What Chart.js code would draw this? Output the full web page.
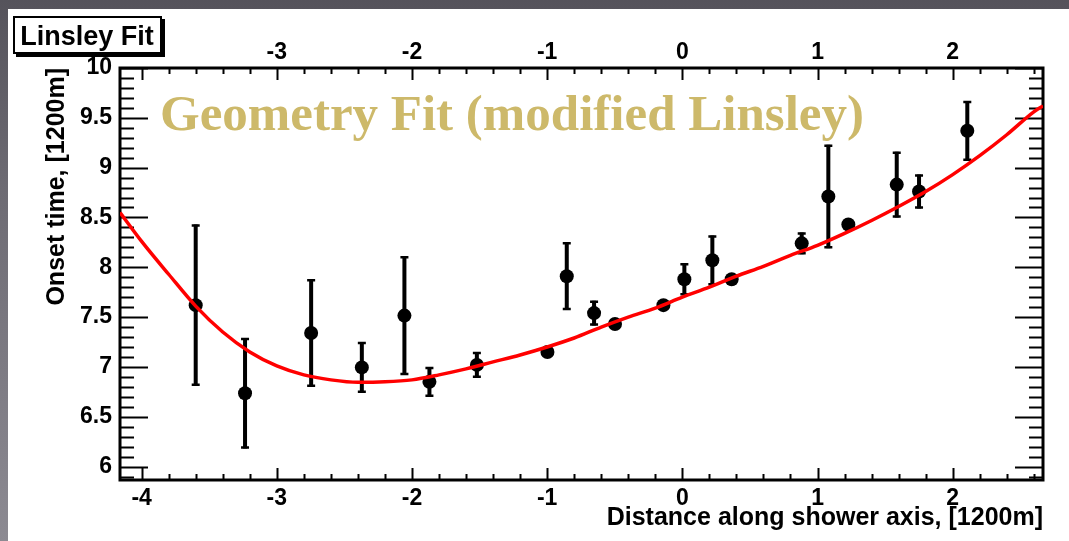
<!DOCTYPE html>
<html>
<head>
<meta charset="utf-8">
<script src="https://cdn.jsdelivr.net/npm/chart.js@4.4.1/dist/chart.umd.min.js"></script>
<style>
  html, body { margin: 0; padding: 0; width: 1069px; height: 541px; overflow: hidden; }
  body { background: linear-gradient(180deg, #55535b 0%, #6d6b73 35%, #8c8a92 100%); position: relative; }
  #panel { position: absolute; left: 8px; top: 9px; right: 0; bottom: 0; background: #fff; }
  #c { position: absolute; left: 0; top: 0; }
</style>
</head>
<body>
<div id="panel"></div>
<canvas id="c" width="1069" height="541"></canvas>
<script>
// Measured onset times along the shower axis (units of 1200 m)
const pointX   = [-3.60, -3.235, -2.746, -2.371, -2.056, -1.871, -1.52, -0.998, -0.855, -0.653, -0.498,
                  -0.14, 0.015, 0.222, 0.365, 0.883, 1.08, 1.228, 1.586, 1.751, 2.108];
const pointY   = [7.62, 6.735, 7.34, 6.995, 7.515, 6.85, 7.02, 7.15, 7.91, 7.54, 7.43,
                  7.62, 7.88, 8.07, 7.88, 8.24, 8.71, 8.43, 8.83, 8.76, 9.37];
const pointErr = [0.81, 0.555, 0.54, 0.255, 0.595, 0.15, 0.13, 0.03, 0.34, 0.125, 0.03,
                  0.03, 0.16, 0.25, 0.03, 0.11, 0.52, 0.03, 0.33, 0.17, 0.30];

// Fitted curve (modified Linsley shape), sampled along the axis
const fitX = [-4.16, -4.0, -3.8, -3.6, -3.4, -3.2, -3.0, -2.8, -2.6, -2.4, -2.2, -2.0, -1.8, -1.6, -1.4,
              -1.2, -1.0, -0.8, -0.6, -0.4, -0.2, 0.0, 0.2, 0.4, 0.6, 0.8, 1.0, 1.2, 1.4, 1.6, 1.8,
              2.0, 2.2, 2.4, 2.6, 2.668];
const fitY = [8.55, 8.26, 7.93, 7.61, 7.35, 7.15, 7.01, 6.92, 6.87, 6.845, 6.85, 6.87, 6.92, 6.98, 7.05,
              7.12, 7.20, 7.29, 7.40, 7.50, 7.59, 7.70, 7.80, 7.91, 8.01, 8.12, 8.22, 8.34, 8.47, 8.61, 8.76,
              8.93, 9.12, 9.33, 9.56, 9.62];

// Axis ranges and labelled ticks
const xRange = [-4.16, 2.668];
const yRange = [5.865, 10.0];
const xTickLabels    = [-4, -3, -2, -1, 0, 1, 2];
const xTopTickLabels = [-3, -2, -1, 0, 1, 2];
const yTickLabels    = [6, 6.5, 7, 7.5, 8, 8.5, 9, 9.5, 10];

const SANS = '"Liberation Sans", Arial, Helvetica, sans-serif';
const tickFont  = { family: SANS, size: 23, weight: 'bold' };
const titleFont = { family: SANS, size: 25, weight: 'bold' };

function fixedTicks(values) {
  return scale => { scale.ticks = values.map(v => ({ value: v })); };
}

// Frame with inward-pointing major/minor ticks on all four sides
const frameTicks = {
  id: 'frameTicks',
  beforeDatasetsDraw(chart) {
    const { ctx, chartArea: a, scales: { x, y } } = chart;
    ctx.save();
    ctx.strokeStyle = '#000';
    ctx.lineWidth = 2;
    ctx.beginPath();
    for (let k = Math.ceil(x.min * 5 - 1e-9); k <= Math.floor(x.max * 5 + 1e-9); k++) {
      const px = Math.round(x.getPixelForValue(k / 5)) + 0.5;
      const len = (k % 5 === 0) ? 12 : 6;
      ctx.moveTo(px, a.bottom); ctx.lineTo(px, a.bottom - len);
      ctx.moveTo(px, a.top);    ctx.lineTo(px, a.top + len);
    }
    for (let k = Math.ceil(y.min * 10 - 1e-9); k <= Math.floor(y.max * 10 + 1e-9); k++) {
      const py = Math.round(y.getPixelForValue(k / 10)) + 0.5;
      const len = (k % 5 === 0) ? 28 : 14;
      ctx.moveTo(a.left, py);  ctx.lineTo(a.left + len, py);
      ctx.moveTo(a.right, py); ctx.lineTo(a.right - len, py);
    }
    ctx.stroke();
    ctx.lineWidth = 3;
    ctx.strokeRect(a.left, a.top, a.right - a.left, a.bottom - a.top);

    // vertical error bars with short end marks
    ctx.lineWidth = 4;
    ctx.lineCap = 'butt';
    ctx.beginPath();
    pointX.forEach((vx, i) => {
      const px = x.getPixelForValue(vx);
      const top = y.getPixelForValue(pointY[i] + pointErr[i]);
      const bot = y.getPixelForValue(pointY[i] - pointErr[i]);
      ctx.moveTo(px, top); ctx.lineTo(px, bot);
    });
    ctx.stroke();
    ctx.lineWidth = 2.5;
    ctx.beginPath();
    pointX.forEach((vx, i) => {
      const px = x.getPixelForValue(vx);
      const top = y.getPixelForValue(pointY[i] + pointErr[i]);
      const bot = y.getPixelForValue(pointY[i] - pointErr[i]);
      ctx.moveTo(px - 4, top + 1); ctx.lineTo(px + 4, top + 1);
      ctx.moveTo(px - 4, bot - 1); ctx.lineTo(px + 4, bot - 1);
    });
    ctx.stroke();
    ctx.restore();
  },
  afterDraw(chart) {
    const { ctx } = chart;
    ctx.save();
    // "Linsley Fit" label box with drop shadow
    ctx.fillStyle = '#000';
    ctx.fillRect(16, 19, 149, 38);
    ctx.fillStyle = '#fff';
    ctx.fillRect(13, 16, 149, 38);
    ctx.strokeStyle = '#000';
    ctx.lineWidth = 2;
    ctx.strokeRect(14, 17, 147, 36);
    ctx.fillStyle = '#000';
    ctx.font = 'bold 27px ' + SANS;
    ctx.textAlign = 'center';
    ctx.textBaseline = 'alphabetic';
    ctx.fillText('Linsley Fit', 87, 45);
    // headline over the plot
    ctx.fillStyle = '#cdb96a';
    ctx.font = 'bold 51px "Liberation Serif", "Times New Roman", serif';
    ctx.textAlign = 'left';
    ctx.fillText('Geometry Fit (modified Linsley)', 160, 130);
    ctx.restore();
  }
};

new Chart(document.getElementById('c'), {
  type: 'scatter',
  data: {
    datasets: [
      {
        type: 'line',
        label: 'fit',
        data: fitX.map((v, i) => ({ x: v, y: fitY[i] })),
        borderColor: '#ff0000',
        borderWidth: 3.5,
        pointRadius: 0,
        cubicInterpolationMode: 'monotone',
        fill: false,
        order: 0
      },
      {
        label: 'onset',
        data: pointX.map((v, i) => ({ x: v, y: pointY[i] })),
        backgroundColor: '#000',
        borderWidth: 0,
        pointRadius: 7,
        order: 1
      }
    ]
  },
  options: {
    responsive: false,
    animation: false,
    devicePixelRatio: 1,
    layout: { padding: 0 },
    plugins: { legend: { display: false }, tooltip: { enabled: false } },
    scales: {
      x: {
        type: 'linear', position: 'bottom', min: xRange[0], max: xRange[1],
        afterBuildTicks: fixedTicks(xTickLabels),
        afterFit: s => { s.height = 61; },
        grid: { display: false, drawTicks: false },
        border: { display: false },
        ticks: { font: tickFont, color: '#000', padding: 5, maxRotation: 0, autoSkip: false, callback: v => String(v) },
        title: { display: true, text: 'Distance along shower axis, [1200m]', align: 'end', color: '#000',
                 font: titleFont, padding: { top: 0, bottom: 8 } }
      },
      x2: {
        type: 'linear', position: 'top', min: xRange[0], max: xRange[1],
        afterBuildTicks: fixedTicks(xTopTickLabels),
        afterFit: s => { s.height = 68; },
        grid: { display: false, drawTicks: false },
        border: { display: false },
        ticks: { font: tickFont, color: '#000', padding: 2, maxRotation: 0, autoSkip: false, callback: v => String(v) }
      },
      y: {
        type: 'linear', position: 'left', min: yRange[0], max: yRange[1],
        afterBuildTicks: fixedTicks(yTickLabels),
        afterFit: s => { s.width = 120; },
        grid: { display: false, drawTicks: false },
        border: { display: false },
        ticks: { font: tickFont, color: '#000', padding: 8, autoSkip: false, callback: v => String(v) },
        title: { display: true, text: 'Onset time, [1200m]', align: 'end', color: '#000',
                 font: titleFont, padding: { top: 42, bottom: 0 } }
      },
      y2: {
        type: 'linear', position: 'right', min: yRange[0], max: yRange[1],
        afterFit: s => { s.width = 26; },
        grid: { display: false, drawTicks: false },
        border: { display: false },
        ticks: { display: false }
      }
    }
  },
  plugins: [frameTicks]
});
</script>
</body>
</html>
